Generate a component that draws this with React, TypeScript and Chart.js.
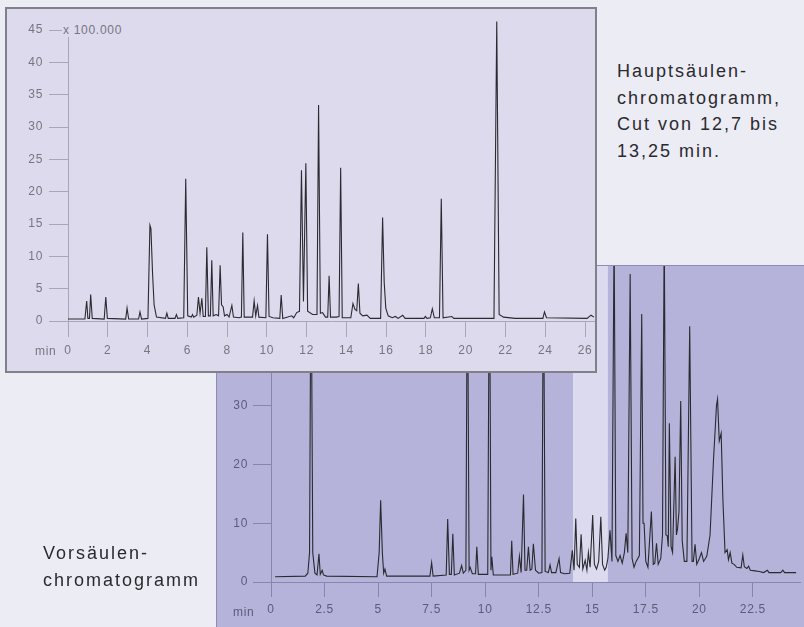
import React, { useEffect, useRef } from "react";
import { Chart, registerables } from "chart.js";
Chart.register(...registerables);

const FONT = '"Liberation Sans", Arial, Helvetica, sans-serif';

// Hauptsäulen-Chromatogramm (oben), Zeit in min, Signal x 100.000
const topTime = [
  0.00, 0.85, 0.94, 1.00, 1.08, 1.14, 1.22, 1.82, 1.90, 1.98,
  2.90, 2.97, 3.05, 3.55, 3.62, 3.70, 4.02, 4.12, 4.17, 4.25,
  4.33, 4.45, 4.90, 4.97, 5.04, 5.38, 5.45, 5.52, 5.82, 5.92,
  6.02, 6.20, 6.26, 6.32, 6.48, 6.56, 6.64, 6.73, 6.80, 6.91,
  6.98, 7.06, 7.16, 7.23, 7.30, 7.45, 7.57, 7.65, 7.72, 7.80,
  7.87, 8.00, 8.10, 8.24, 8.32, 8.60, 8.72, 8.79, 8.86, 9.28,
  9.36, 9.44, 9.53, 9.60, 9.95, 10.03, 10.11, 10.30, 10.65, 10.72,
  10.80, 11.25, 11.35, 11.50, 11.64, 11.74, 11.84, 11.96, 12.05, 12.30,
  12.52, 12.60, 12.69, 12.80, 12.95, 13.06, 13.13, 13.20, 13.50, 13.63,
  13.71, 13.79, 14.22, 14.33, 14.43, 14.52, 14.60, 14.68, 14.82, 15.03,
  15.20, 15.72, 15.82, 15.90, 15.98, 16.10, 16.30, 16.46, 16.60, 16.83,
  16.95, 17.90, 17.97, 18.05, 18.22, 18.32, 18.42, 18.68, 18.77, 18.86,
  19.30, 19.40, 21.42, 21.56, 21.68, 21.90, 22.50, 23.88, 23.96, 24.06,
  26.10, 26.30, 26.45,
];
const topSignal = [
  0.3, 0.3, 3.1, 0.4, 0.4, 4.1, 0.4, 0.3, 3.7, 0.4,
  0.3, 2.0, 0.3, 0.3, 1.4, 0.3, 0.4, 14.8, 14.3, 7.5,
  2.5, 0.6, 0.4, 1.2, 0.4, 0.4, 1.0, 0.4, 0.5, 22.0,
  0.8, 0.6, 1.0, 0.6, 0.9, 3.7, 1.2, 3.5, 0.7, 0.7,
  11.4, 0.8, 0.8, 9.4, 0.8, 1.0, 0.8, 8.6, 2.5, 2.2,
  0.8, 1.0, 0.6, 2.4, 0.6, 0.5, 0.6, 13.7, 0.6, 0.6,
  3.1, 0.8, 2.4, 0.6, 0.5, 13.4, 0.7, 0.5, 0.4, 4.0,
  0.4, 0.8, 0.5, 1.3, 1.5, 23.3, 3.0, 24.4, 1.5, 1.0,
  1.0, 33.4, 1.2, 1.3, 0.6, 0.6, 7.0, 0.6, 0.6, 0.7,
  23.7, 0.5, 0.5, 2.7, 1.8, 1.6, 5.8, 1.2, 0.8, 0.9,
  0.4, 0.4, 16.0, 6.0, 2.0, 0.8, 0.5, 0.7, 0.4, 0.9,
  0.4, 0.4, 0.7, 0.4, 0.5, 1.9, 0.5, 0.5, 18.9, 0.5,
  0.7, 0.4, 0.4, 46.3, 1.0, 0.6, 0.4, 0.4, 1.4, 0.5,
  0.4, 0.9, 0.6,
];
const topXTicks = [0, 2, 4, 6, 8, 10, 12, 14, 16, 18, 20, 22, 24, 26];
const topYTicks = [0, 5, 10, 15, 20, 25, 30, 35, 40, 45];

// Vorsäulen-Chromatogramm (unten)
const bottomTime = [
  0.19, 1.60, 1.72, 1.80, 1.87, 1.95, 2.05, 2.15, 2.24, 2.30,
  2.39, 2.45, 2.60, 4.95, 5.05, 5.12, 5.20, 5.26, 5.32, 5.40,
  7.42, 7.50, 7.57, 8.18, 8.25, 8.33, 8.42, 8.49, 8.56, 8.80,
  8.90, 8.98, 9.10, 9.17, 9.25, 9.30, 9.40, 9.55, 9.61, 9.68,
  10.12, 10.20, 10.27, 10.31, 10.38, 11.18, 11.24, 11.30, 11.52, 11.60,
  11.68, 11.79, 11.86, 11.94, 12.02, 12.10, 12.18, 12.25, 12.35, 12.50,
  12.65, 12.72, 12.80, 12.95, 13.03, 13.10, 13.30, 13.45, 13.52, 13.70,
  13.95, 14.07, 14.15, 14.23, 14.30, 14.40, 14.48, 14.56, 14.67, 14.75,
  14.82, 14.90, 15.02, 15.10, 15.20, 15.30, 15.40, 15.48, 15.58, 15.65,
  15.73, 15.83, 15.92, 16.02, 16.10, 16.20, 16.30, 16.40, 16.50, 16.58,
  16.66, 16.77, 16.86, 16.95, 17.05, 17.20, 17.31, 17.37, 17.42, 17.50,
  17.60, 17.76, 17.85, 17.92, 18.00, 18.08, 18.20, 18.28, 18.36, 18.44,
  18.50, 18.55, 18.60, 18.68, 18.75, 18.87, 18.93, 18.98, 19.05, 19.13,
  19.20, 19.30, 19.42, 19.55, 19.66, 19.72, 19.80, 19.88, 20.00, 20.10,
  20.20, 20.35, 20.50, 20.66, 20.80, 20.85, 20.93, 21.02, 21.10, 21.20,
  21.30, 21.36, 21.44, 21.52, 21.62, 21.75, 21.95, 22.03, 22.10, 22.22,
  22.30, 22.38, 22.60, 22.80, 23.00, 23.18, 23.25, 23.80, 23.90, 23.98,
  24.52,
];
const bottomSignal = [
  0.9, 1.0, 1.5, 5.0, 58, 5.0, 1.5, 1.2, 4.8, 1.3,
  2.0, 1.2, 1.0, 0.9, 5.0, 13.9, 5.0, 1.5, 2.2, 1.0,
  1.0, 3.3, 1.0, 1.2, 10.7, 1.3, 1.3, 8.2, 1.2, 1.5,
  2.8, 1.5, 2.0, 58, 2.0, 2.5, 1.4, 1.4, 6.0, 1.3,
  1.3, 60, 2.0, 4.3, 1.2, 1.2, 7.0, 1.3, 1.5, 4.4,
  1.6, 14.9, 2.0, 2.0, 6.0, 2.0, 2.2, 6.5, 2.0, 1.5,
  1.6, 58, 1.8, 1.6, 2.9, 1.6, 1.6, 4.0, 1.6, 1.4,
  1.5, 5.4, 2.0, 10.8, 3.0, 2.5, 8.1, 2.2, 3.7, 2.0,
  5.0, 2.5, 11.4, 3.0, 2.2, 3.5, 11.1, 3.0, 2.0, 2.5,
  4.0, 8.8, 3.5, 60, 4.5, 3.5, 4.5, 3.2, 5.0, 8.3,
  5.0, 52.4, 4.0, 2.5, 3.5, 4.5, 45.6, 10.0, 10.0, 3.5,
  2.5, 12.0, 3.0, 3.2, 6.6, 3.0, 4.0, 8.0, 60, 8.0,
  7.9, 6.0, 27.0, 6.0, 5.0, 21.3, 8.0, 9.0, 12.0, 30.8,
  7.0, 3.5, 3.5, 43.5, 3.5, 3.5, 6.4, 3.0, 4.0, 5.0,
  3.5, 4.4, 8.0, 20.7, 30.0, 31.1, 24.0, 25.3, 14.0, 5.0,
  5.5, 3.8, 5.0, 3.2, 3.0, 2.5, 2.4, 4.6, 2.6, 2.3,
  2.7, 2.0, 1.9, 1.8, 1.6, 2.0, 1.6, 1.6, 2.0, 1.6,
  1.6,
];
const bottomXTicks = [0, 2.5, 5, 7.5, 10, 12.5, 15, 17.5, 20, 22.5];
const bottomYTicks = [0, 10, 20, 30, 40, 50];
const cutStart = 14.1;
const cutEnd = 15.73;

const toPoints = (xs: number[], ys: number[]) =>
  xs.slice(0, Math.min(xs.length, ys.length)).map((x, i) => ({ x, y: ys[i] }));

const spacingPlugin = {
  id: "labelSpacing",
  beforeDraw(chart: any) {
    try {
      (chart.ctx as any).letterSpacing = "0.7px";
    } catch (e) {}
  },
};

const bandPlugin = {
  id: "cutBand",
  beforeDraw(chart: any) {
    const opts = chart.options.plugins.cutBand;
    if (!opts) return;
    const { ctx, chartArea, scales } = chart;
    const x0 = scales.x.getPixelForValue(opts.from);
    const x1 = scales.x.getPixelForValue(opts.to);
    const y0 = scales.y.getPixelForValue(0);
    ctx.save();
    ctx.fillStyle = opts.color;
    ctx.fillRect(x0, chartArea.top, x1 - x0, y0 - chartArea.top);
    ctx.restore();
  },
};

function axisCfg(o: any) {
  return {
    type: "linear",
    min: o.min,
    max: o.max,
    afterBuildTicks: (ax: any) => {
      ax.ticks = o.ticks.map((v: number) => ({ value: v }));
    },
    afterFit: (s: any) => {
      if (o.width !== undefined) s.width = o.width;
      if (o.height !== undefined) s.height = o.height;
      s.paddingLeft = 0;
      s.paddingRight = 0;
      s.paddingTop = 0;
      s.paddingBottom = 0;
    },
    grid: { drawOnChartArea: false, drawTicks: true, tickLength: o.tickLength, color: o.lineColor, lineWidth: 1 },
    border: { display: true, color: o.lineColor, width: 1 },
    ticks: {
      color: o.labelColor,
      font: { family: FONT, size: 12 },
      padding: o.padding,
      maxRotation: 0,
      autoSkip: false,
      callback: (v: any) => String(v),
    },
  };
}

function ChartCanvas({ config, width, height }: { config: any; width: number; height: number }) {
  const ref = useRef<HTMLCanvasElement | null>(null);
  useEffect(() => {
    if (!ref.current) return;
    const chart = new Chart(ref.current, config);
    return () => chart.destroy();
  }, []);
  return <canvas ref={ref} width={width} height={height} style={{ display: "block", width, height }} />;
}

const topConfig = {
  type: "line",
  data: {
    datasets: [
      {
        data: toPoints(topTime, topSignal),
        borderColor: "#2a2a30",
        borderWidth: 1.1,
        pointRadius: 0,
        tension: 0,
        fill: false,
        clip: false,
      },
    ],
  },
  options: {
    animation: false,
    responsive: false,
    events: [],
    layout: { padding: { top: 21, right: 1, left: 0, bottom: 0 } },
    plugins: { legend: { display: false }, tooltip: { enabled: false } },
    scales: {
      x: axisCfg({ min: 0, max: 26.45, ticks: topXTicks, height: 50, tickLength: 16, padding: 6, lineColor: "#a7a6ba", labelColor: "#76767f" }),
      y: axisCfg({ min: 0, max: 45, ticks: topYTicks, width: 61, tickLength: 19, padding: 6, lineColor: "#a7a6ba", labelColor: "#76767f" }),
    },
  },
  plugins: [spacingPlugin],
};

const bottomConfig = {
  type: "line",
  data: {
    datasets: [
      {
        data: toPoints(bottomTime, bottomSignal),
        borderColor: "#2a2a30",
        borderWidth: 1.1,
        pointRadius: 0,
        tension: 0,
        fill: false,
      },
    ],
  },
  options: {
    animation: false,
    responsive: false,
    events: [],
    layout: { padding: { top: 0, right: 4, left: 0, bottom: 0 } },
    plugins: {
      legend: { display: false },
      tooltip: { enabled: false },
      cutBand: { from: cutStart, to: cutEnd, color: "#dcdaee" },
    },
    scales: {
      x: axisCfg({ min: 0, max: 24.7, ticks: bottomXTicks, height: 45, tickLength: 15, padding: 5, lineColor: "#8886b0", labelColor: "#5c5b7a" }),
      y: axisCfg({ min: 0, max: 53.75, ticks: bottomYTicks, width: 54, tickLength: 18, padding: 5, lineColor: "#8886b0", labelColor: "#5c5b7a" }),
    },
  },
  plugins: [bandPlugin, spacingPlugin],
};

const noteStyle: React.CSSProperties = {
  position: "absolute",
  fontFamily: FONT,
  fontSize: 18,
  letterSpacing: "2px",
  lineHeight: "26.5px",
  color: "#2a2a2e",
  whiteSpace: "pre",
};

export default function App() {
  return (
    <div
      style={{
        position: "absolute",
        left: 0,
        top: 0,
        width: 804,
        height: 627,
        overflow: "hidden",
        background: "#ececf5",
        fontFamily: FONT,
      }}
    >
      {/* Vorsäulen panel */}
      <div
        style={{
          position: "absolute",
          left: 216,
          top: 265,
          width: 588,
          height: 362,
          boxSizing: "border-box",
          borderLeft: "1px solid #8e8cb6",
          borderTop: "1px solid #8e8cb6",
          background: "#b5b3d9",
        }}
      >
        <ChartCanvas config={bottomConfig} width={587} height={361} />
      </div>
      <div style={{ position: "absolute", left: 233, top: 605, fontSize: 12, letterSpacing: "0.7px", color: "#5c5b7a" }}>min</div>

      {/* Hauptsäulen panel */}
      <div
        style={{
          position: "absolute",
          left: 5,
          top: 7,
          width: 592,
          height: 366,
          boxSizing: "border-box",
          border: "2px solid #808089",
          background: "#dddaed",
        }}
      >
        <ChartCanvas config={topConfig} width={588} height={362} />
      </div>
      <div
        style={{
          position: "absolute",
          left: 62,
          top: 23,
          fontSize: 12,
          letterSpacing: "0.7px",
          color: "#76767f",
          background: "#dddaed",
          padding: "0 1px",
          lineHeight: "14px",
        }}
      >
        x 100.000
      </div>
      <div style={{ position: "absolute", left: 35, top: 344, fontSize: 12, letterSpacing: "0.7px", color: "#76767f" }}>min</div>

      <div style={{ ...noteStyle, left: 617, top: 58 }}>
        {"Hauptsäulen-\nchromatogramm,\nCut von 12,7 bis\n13,25 min."}
      </div>
      <div style={{ ...noteStyle, left: 43, top: 540, lineHeight: "27px" }}>
        {"Vorsäulen-\nchromatogramm"}
      </div>
    </div>
  );
}
